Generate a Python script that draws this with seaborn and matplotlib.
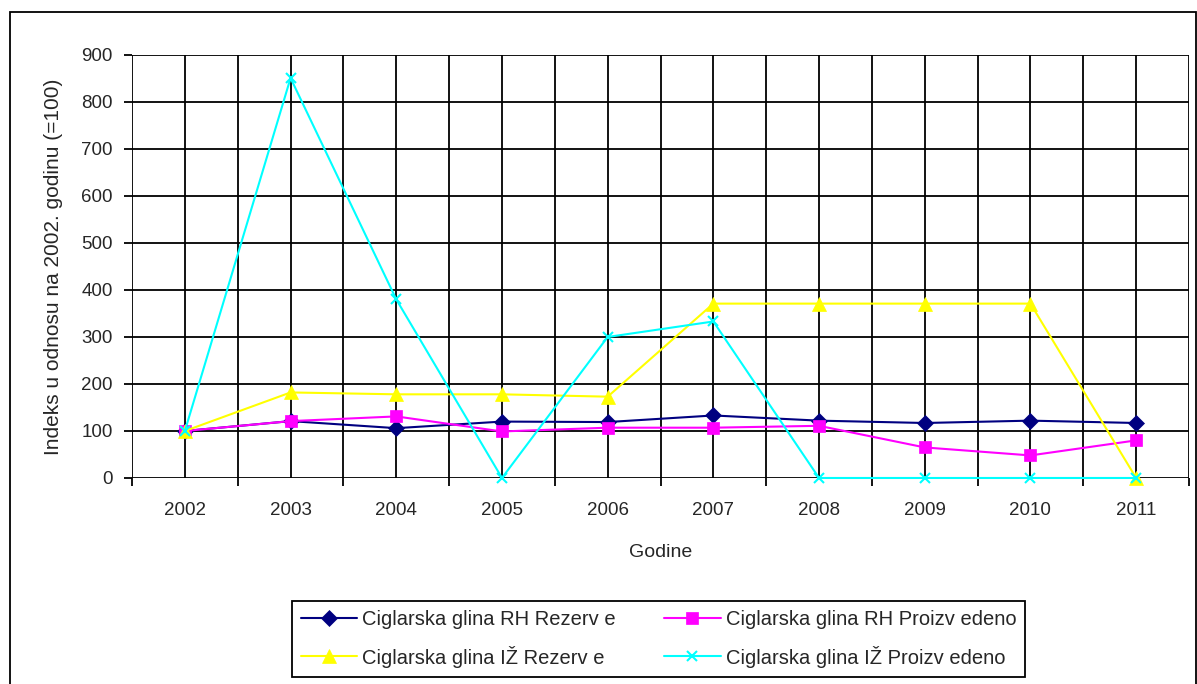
import matplotlib
matplotlib.use("Agg")
import matplotlib.pyplot as plt
import matplotlib.patches as mpatches
import seaborn as sns
import pandas as pd

years = ["2002", "2003", "2004", "2005", "2006", "2007", "2008", "2009", "2010", "2011"]
rh_rezerve = [100, 121, 106, 120, 119, 133, 122, 117, 122, 117]
rh_proizvedeno = [100, 121, 131, 99, 107, 107, 111, 65, 48, 80]
iz_rezerve = [100, 182, 178, 178, 173, 371, 371, 371, 371, 0]
iz_proizvedeno = [100, 851, 380, 0, 300, 333, 0, 0, 0, 0]

series = [
    ("Ciglarska glina RH Rezerv e", rh_rezerve, "#000080", "D", 8),
    ("Ciglarska glina RH Proizv edeno", rh_proizvedeno, "#FF00FF", "s", 8.5),
    ("Ciglarska glina IŽ Rezerv e", iz_rezerve, "#FFFF00", "^", 9.5),
    ("Ciglarska glina IŽ Proizv edeno", iz_proizvedeno, "#00FFFF", "x", 7),
]

sns.set_style("white")
plt.rcParams["font.family"] = ["Liberation Sans", "DejaVu Sans"]
fs = 13.5

fig = plt.figure(figsize=(11.97, 6.84), dpi=100)
ax = fig.add_axes([0.1103, 0.3012, 0.8830, 0.6184])

pos = list(range(len(years)))
for name, vals, color, marker, ms in series:
    df = pd.DataFrame({"x": pos, "y": vals})
    sns.lineplot(data=df, x="x", y="y", ax=ax, color=color, marker=marker,
                 markersize=ms, markeredgecolor=color,
                 markeredgewidth=1.5 if marker == "x" else 0.5,
                 linewidth=1.5, label=name, zorder=3, clip_on=False)

ax.set_xlim(-0.5, len(years) - 0.5)
ax.set_ylim(0, 900)
ax.set_yticks(range(0, 901, 100))
ax.set_xticks([i - 0.5 for i in range(len(years) + 1)])
ax.set_xticklabels([])
ax.set_xticks(pos, minor=True)
ax.set_xticklabels(years, minor=True)
ax.tick_params(axis="x", which="major", length=6, width=1.3, color="black", direction="out")
ax.tick_params(axis="x", which="minor", length=0, labelsize=fs, pad=17)
ax.tick_params(axis="y", length=6, width=1.3, color="black", direction="out",
               labelsize=fs, pad=8)
ax.tick_params(bottom=True, left=True)

for v in range(0, 901, 100):
    ax.axhline(v, color="black", linewidth=1.3, zorder=1)
for i in range(len(years) * 2 + 1):
    ax.axvline(-0.5 + i * 0.5, color="black", linewidth=1.3, zorder=1)

for s in ax.spines.values():
    s.set_visible(False)

ax.set_xlabel("Godine", fontsize=14, labelpad=18)
ax.set_ylabel("Indeks u odnosu na 2002. godinu (=100)", fontsize=15, labelpad=13)

handles, labels = ax.get_legend_handles_labels()
ax.get_legend().remove()
order = [0, 2, 1, 3]
leg = fig.legend([handles[i] for i in order], [labels[i] for i in order],
                 ncol=2, loc="center", bbox_to_anchor=(0.5501, 0.0658),
                 frameon=True, fancybox=False, edgecolor="black", framealpha=1,
                 fontsize=14.5, handlelength=2.8, handletextpad=0.25,
                 columnspacing=2.4, borderpad=0.45, labelspacing=0.8,
                 borderaxespad=0)
leg.get_frame().set_linewidth(1.3)

fig.patches.append(mpatches.Rectangle((0.0084, -0.01), 0.9906, 0.9925,
                                      transform=fig.transFigure, fill=False,
                                      edgecolor="black", linewidth=1.3))

fig.savefig("out.png", dpi=100)
